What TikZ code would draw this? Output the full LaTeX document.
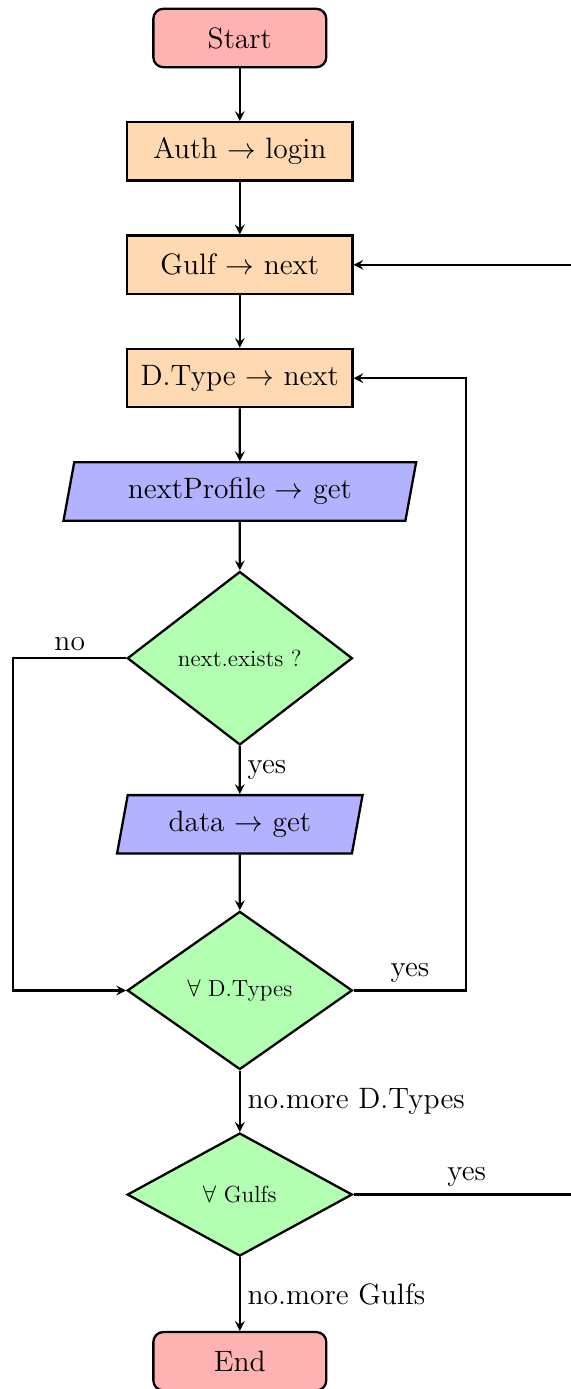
\documentclass[tikz,border=0pt]{standalone}
\usepackage{tikz}
\usetikzlibrary{shapes,arrows,positioning}

\begin{document}
\begin{tikzpicture}[
			node distance=2cm,
			font=\fontsize{14.8}{18}\selectfont,
			line width=1.15pt,
			startstop/.style = {rectangle, rounded corners=5pt, draw, fill=red!30, minimum width=3.05cm, minimum height=1.03cm, align=center},
			process/.style   = {rectangle, draw, fill=orange!30, minimum width=3.97cm, minimum height=1.03cm},
			io/.style        = {trapezium, trapezium left angle=75, trapezium right angle=105, trapezium stretches body, draw, fill=blue!30, minimum height=1.03cm},
			decision/.style  = {diamond, draw, fill=green!30, minimum width=3.97cm, font=\fontsize{11.7}{14}\selectfont},
			arrow/.style     = {->},
			>=stealth]
			
			\useasboundingbox (0,0) rectangle (10.07,-24.5);
			
			\node[startstop] (start) at (4.23,-0.67) {Start};
			\node[process, below of=start] (auth) {Auth $\rightarrow$ login};
			\node[process, below of=auth] (gulf) {Gulf $\rightarrow$ next};
			\node[process, below of=gulf] (dtype) {D.Type $\rightarrow$ next};
			\node[io, below of=dtype, minimum width=6.22cm] (profile) {nextProfile $\rightarrow$ get};
			\node[decision, below of=profile, node distance=2.94cm, minimum height=3.06cm] (exists) {next.exists ?};
			\node[io, below of=exists, node distance=2.93cm, minimum width=4.33cm] (data) {data $\rightarrow$ get};
			\node[decision, below of=data, node distance=2.93cm, minimum height=2.79cm] (alltypes) {$\forall$ D.Types};
			\node[decision, below of=alltypes, node distance=3.6cm, minimum height=2.17cm] (allgulfs) {$\forall$ Gulfs};
			\node[startstop, below of=allgulfs, node distance=2.94cm] (end) {End};
			
			\coordinate[left=1.99cm of exists.west] (nocorner);
			\coordinate[right=1.99cm of alltypes.east] (typecorner);
			\coordinate[right=3.99cm of allgulfs.east] (gulfcorner);
			
			\draw[arrow] (start) -- (auth);
			\draw[arrow] (auth) -- (gulf);
			\draw[arrow] (gulf) -- (dtype);
			\draw[arrow] (dtype) -- (profile);
			\draw[arrow] (profile) -- (exists);
			\draw[arrow] (exists) -- node[right] {yes} (data);
			\draw[arrow] (data) -- (alltypes);
			\draw[arrow] (alltypes) -- node[right] {no.more D.Types} (allgulfs);
			\draw[arrow] (allgulfs) -- node[right] {no.more Gulfs} (end);
			
			\draw[arrow] (exists.west) -- node[above] {no} (nocorner) |- (alltypes.west);
			\draw[arrow] (alltypes.east) -- node[above] {yes} (typecorner) |- (dtype.east);
			\draw[arrow] (allgulfs.east) -- node[above] {yes} (gulfcorner) |- (gulf.east);
		\end{tikzpicture}
\end{document}
